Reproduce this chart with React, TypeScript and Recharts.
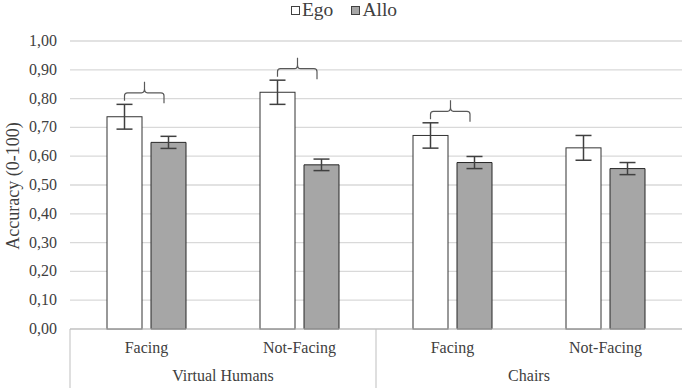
import React from 'react';
import { BarChart, Bar, XAxis, YAxis, CartesianGrid, Legend, ErrorBar } from 'recharts';

const conditions = ['Facing', 'Not-Facing', 'Facing', 'Not-Facing'];
const groups = ['Virtual Humans', 'Virtual Humans', 'Chairs', 'Chairs'];
const egoMeans = [0.737, 0.822, 0.672, 0.629];
const alloMeans = [0.648, 0.57, 0.578, 0.557];
const egoErrors = [0.043, 0.042, 0.044, 0.043];
const alloErrors = [0.021, 0.02, 0.021, 0.021];
const braces = [true, true, true, false];
const yTicks = [0, 0.1, 0.2, 0.3, 0.4, 0.5, 0.6, 0.7, 0.8, 0.9, 1];

const data = conditions.map((condition, i) => ({
  condition,
  group: groups[i],
  ego: egoMeans[i],
  alloc: alloMeans[i],
  egoErr: egoErrors[i],
  alloErr: alloErrors[i],
  brace: braces[i],
}));

const W = 685;
const H = 388;
const Y_AXIS_W = 70;
const MARGIN_RIGHT = 3;
const PLOT_W = W - Y_AXIS_W - MARGIN_RIGHT;
const GROUP_COUNT = 2;
const FONT = "'Liberation Serif', 'Times New Roman', serif";
const TEXT = '#404040';
const AXIS_LINE = '#bfbfbf';

const fmt = (v: number) => v.toFixed(2).replace('.', ',');

// ego bar plus the curly bracket drawn above its error bar
function EgoShape(props: any) {
  const { x, y, width, height, payload } = props;
  const cx = x + width / 2;
  const errTop = y - (payload.egoErr * height) / payload.ego;
  const h = errTop - 11.5;
  const r = 3;
  const tip = cx + 20;
  const right = cx + 39.5;
  const d = [
    `M${cx},${h + 8}`,
    `L${cx},${h + r}`,
    `Q${cx},${h} ${cx + r},${h}`,
    `L${tip - r},${h}`,
    `Q${tip},${h} ${tip},${h - 4}`,
    `L${tip},${h - 11}`,
    `M${tip},${h - 4}`,
    `Q${tip},${h} ${tip + r},${h}`,
    `L${right - r},${h}`,
    `Q${right},${h} ${right},${h + r}`,
    `L${right},${h + 10.5}`,
  ].join(' ');
  return (
    <g>
      <rect x={x} y={y} width={width} height={height} fill="#ffffff" stroke="#333333" strokeWidth={1} />
      {payload.brace && <path d={d} fill="none" stroke="#595959" strokeWidth={1.2} />}
    </g>
  );
}

function ConditionTick(props: any) {
  const { x, y, payload } = props;
  return (
    <text x={x} y={y + 11} textAnchor="middle" fontSize={16} fill={TEXT} style={{ fontFamily: FONT }}>
      {payload.value}
    </text>
  );
}

function ValueTick(props: any) {
  const { x, y, payload } = props;
  return (
    <text x={x} y={y} dy={5} textAnchor="end" fontSize={16} fill={TEXT} style={{ fontFamily: FONT }}>
      {fmt(payload.value)}
    </text>
  );
}

function GroupTick(props: any) {
  const { x, y, payload } = props;
  const half = PLOT_W / GROUP_COUNT / 2;
  const top = H - 59;
  return (
    <g>
      <line x1={x - half} y1={top} x2={x - half} y2={H} stroke={AXIS_LINE} strokeWidth={1} />
      <text x={x} y={y + 22} textAnchor="middle" fontSize={16} fill={TEXT} style={{ fontFamily: FONT }}>
        {payload.value}
      </text>
    </g>
  );
}

function LegendContent() {
  const items = [
    { name: 'Ego', fill: '#ffffff' },
    { name: 'Allo', fill: '#a6a6a6' },
  ];
  return (
    <div
      style={{
        height: 41,
        display: 'flex',
        justifyContent: 'center',
        alignItems: 'flex-start',
        paddingLeft: 6,
        boxSizing: 'border-box',
        fontFamily: FONT,
        fontSize: 19.5,
        color: TEXT,
        lineHeight: '20px',
      }}
    >
      {items.map((it, i) => (
        <div key={it.name} style={{ display: 'flex', alignItems: 'center', marginLeft: i ? 18 : 0 }}>
          <span
            style={{
              display: 'inline-block',
              width: 7,
              height: 7,
              border: '1px solid #404040',
              background: it.fill,
              marginRight: 2,
            }}
          />
          <span>{it.name}</span>
        </div>
      ))}
    </div>
  );
}

function YLabel() {
  return (
    <text
      x={13}
      y={186}
      transform="rotate(-90, 13, 186)"
      textAnchor="middle"
      dominantBaseline="central"
      fontSize={18}
      fill={TEXT}
      style={{ fontFamily: FONT }}
    >
      Accuracy (0-100)
    </text>
  );
}

export default function App() {
  return (
    <div style={{ position: 'absolute', left: 0, top: 0, fontFamily: FONT }}>
      <BarChart
        width={W}
        height={H}
        data={data}
        margin={{ top: 0, right: MARGIN_RIGHT, bottom: 0, left: 0 }}
        barGap={9}
        style={{ fontFamily: FONT }}
      >
        <Legend verticalAlign="top" content={<LegendContent />} />
        <CartesianGrid vertical={false} stroke="#d9d9d9" strokeWidth={1.3} />
        <XAxis
          dataKey="condition"
          height={30}
          axisLine={{ stroke: AXIS_LINE }}
          tickLine={false}
          tickSize={6}
          tickMargin={7}
          tick={<ConditionTick />}
        />
        <XAxis
          xAxisId="group"
          dataKey="group"
          allowDuplicatedCategory={false}
          height={29}
          axisLine={false}
          tickLine={false}
          tickSize={0}
          tickMargin={0}
          tick={<GroupTick />}
        />
        <YAxis
          domain={[0, 1]}
          ticks={yTicks}
          width={Y_AXIS_W}
          axisLine={false}
          tickLine={false}
          tickSize={6}
          tickMargin={7}
          tick={<ValueTick />}
          label={<YLabel />}
        />
        <Bar dataKey="ego" name="Ego" barSize={35} shape={<EgoShape />} isAnimationActive={false}>
          <ErrorBar dataKey="egoErr" width={8} stroke="#404040" strokeWidth={1.5} direction="y" />
        </Bar>
        <Bar
          dataKey="alloc"
          name="Allo"
          barSize={35}
          fill="#a6a6a6"
          stroke="#262626"
          strokeWidth={1}
          isAnimationActive={false}
        >
          <ErrorBar dataKey="alloErr" width={8} stroke="#404040" strokeWidth={1.5} direction="y" />
        </Bar>
      </BarChart>
    </div>
  );
}
